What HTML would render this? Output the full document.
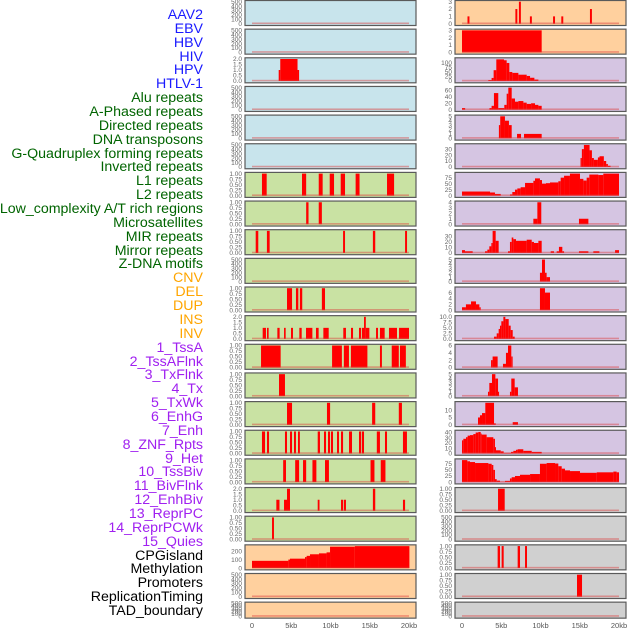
<!DOCTYPE html>
<html><head><meta charset="utf-8"><style>
html,body{margin:0;padding:0;background:#fff;width:630px;height:630px;overflow:hidden}
#labels{position:absolute;left:0;top:0;width:203px;}
.lab{position:absolute;right:0;font-family:"Liberation Sans",sans-serif;font-size:14.2px;white-space:nowrap;line-height:14px}
svg{position:absolute;left:0;top:0}
</style></head><body>
<div id="labels"></div>
<svg id="chart" width="630" height="630"></svg>
<script>
const trackNames=["AAV2","EBV","HBV","HIV","HPV","HTLV-1","Alu repeats","A-Phased repeats","Directed repeats","DNA transposons","G-Quadruplex forming repeats","Inverted repeats","L1 repeats","L2 repeats","Low_complexity A/T rich regions","Microsatellites","MIR repeats","Mirror repeats","Z-DNA motifs","CNV","DEL","DUP","INS","INV","1_TssA","2_TssAFlnk","3_TxFlnk","4_Tx","5_TxWk","6_EnhG","7_Enh","8_ZNF_Rpts","9_Het","10_TssBiv","11_BivFlnk","12_EnhBiv","13_ReprPC","14_ReprPCWk","15_Quies","CPGisland","Methylation","Promoters","ReplicationTiming","TAD_boundary"];
const labelColors=["#1a1aff","#1a1aff","#1a1aff","#1a1aff","#1a1aff","#1a1aff","#006400","#006400","#006400","#006400","#006400","#006400","#006400","#006400","#006400","#006400","#006400","#006400","#006400","#ffa500","#ffa500","#ffa500","#ffa500","#ffa500","#a020f0","#a020f0","#a020f0","#a020f0","#a020f0","#a020f0","#a020f0","#a020f0","#a020f0","#a020f0","#a020f0","#a020f0","#a020f0","#a020f0","#a020f0","#000","#000","#000","#000","#000"];
const T500=["0","100","200","300","400","500"],T1=["0.00","0.25","0.50","0.75","1.00"],T2=["0.0","0.5","1.0","1.5","2.0"];
const panelTicks=[T500,T500,T2,T500,T500,T500,T1,T1,T1,T500,T1,T2,T1,T1,T1,T1,T1,T2,T1,["0","100","200"],T500,T500,
["0","1","2","3"],["0","1","2","3"],["0","25","50","75","100"],["0","20","40","60"],["0","1","2","3","4","5"],["0","10","20","30"],["0","25","50","75"],["0","1","2","3","4"],["0","10","20","30"],["0","1","2","3","4","5"],["0","2","4","6"],["0.0","2.5","5.0","7.5","10.0"],["0","2","4","6"],["0","1","2","3","4","5"],["0","5","10"],["0","10","20","30","40"],["0","25","50","75"],T1,T500,T1,T1,T500];
const panelMax=[500,500,2,500,500,500,1,1,1,500,1,2,1,1,1,1,1,2,1,265,500,500,3,3,122,69,5,37,92,4,40,5,7.5,10,6,5,15,42,90,1,500,1,1,500];
const panelSegs=[[],[],[[3.4,3.6,1],[3.6,5.8,2],[5.8,6.0,1]],[],[],[],
[[1.27,1.87,1],[6.37,6.9,1],[8.5,9.0,1],[9.9,10.45,1],[11.3,11.85,1],[13.2,13.7,1],[17.2,18.1,1]],
[[6.9,7.2,1],[8.5,8.9,1]],
[[0.47,0.8,1],[1.9,2.25,1],[11.6,11.85,1],[15.4,15.7,1],[19.5,19.75,1]],
[],
[[4.46,5.1,1],[5.6,5.9,1],[6.1,6.4,1],[8.9,9.3,1]],
[[1.36,1.78,1],[1.91,2.12,1],[3.23,3.52,1],[4.08,4.29,1],[4.97,5.22,1],[6.03,6.33,1],[6.88,7.69,1],[8.15,8.49,1],[9.09,9.77,1],[11.63,11.97,1],[12.61,12.87,1],[13.63,13.89,1],[14.0,14.27,1],[14.27,14.5,2],[14.5,14.95,1],[15.8,16.05,1],[16.3,16.9,1],[17.45,18.47,1],[18.73,20.0,1]],
[[1.15,3.65,1],[10.2,11.45,1],[11.7,12.35,1],[12.6,14.7,1],[16.3,16.55,1],[17.8,18.7,1],[18.85,19.6,1]],
[[3.44,4.2,1]],
[[4.46,5.1,1],[9.55,9.95,1],[15.3,15.7,1],[18.7,19.1,1]],
[[1.27,1.66,1],[1.91,2.17,1],[4.2,4.46,1],[4.84,5.1,1],[5.35,5.6,1],[5.86,6.1,1],[8.37,8.66,1],[9.17,9.43,1],[9.68,9.94,1],[10.06,10.32,1],[10.83,11.08,1],[11.34,11.6,1],[12.36,12.74,1],[13.63,13.9,1],[14.0,14.27,1],[15.9,16.3,1],[16.94,17.2,1],[19.23,19.74,1]],
[[3.97,4.33,1],[5.5,6.0,1],[6.5,6.9,1],[7.7,8.2,1],[9.3,9.8,1],[15.1,15.6,1],[16.4,17.0,1]],
[[3.1,3.5,1],[4.08,4.46,1],[4.46,4.84,2],[8.37,8.6,1],[11.34,11.6,1],[11.7,11.97,1],[15.4,15.7,2],[19.23,19.5,1]],
[[2.55,2.8,1]],
[[0,4.63,87],[4.63,4.84,102],[4.84,6.75,113],[6.75,6.96,132],[6.96,7.39,147],[7.39,8.53,166],[8.53,9.5,177],[9.5,9.94,189],[9.94,13.1,257],[13.1,20.05,264]],
[],[],
[[0.7,0.95,1],[6.8,7.05,2],[7.25,7.5,3],[8.65,8.9,1],[11.6,11.85,1],[12.65,12.9,1],[16.3,16.55,2]],
[[0,10.15,3]],
[[3.35,3.77,5],[3.77,4.03,17],[4.03,4.37,60],[4.37,5.35,120],[5.35,5.69,115],[5.69,6.03,100],[6.03,6.41,50],[6.41,7.18,45],[7.18,8.24,35],[8.24,8.67,28],[8.67,9.22,18],[9.22,9.73,8]],
[[0,0.4,5],[3.5,3.77,5],[3.77,4.07,12],[4.07,4.62,52],[4.62,5.39,5],[5.39,5.69,15],[5.69,5.9,50],[5.9,6.33,69],[6.33,6.75,35],[6.75,7.18,25],[7.18,7.82,27],[7.82,8.24,22],[8.24,8.8,18],[8.8,9.3,20],[9.3,9.73,15],[9.73,10.15,12]],
[[4.7,4.87,3],[4.87,5.47,5],[5.47,5.98,4],[5.98,6.33,3],[7.01,7.52,1],[7.9,10.15,1]],
[[15.1,15.27,15],[15.27,15.53,30],[15.53,16.25,37],[16.25,16.55,28],[16.55,16.8,15],[16.8,17.31,12],[17.31,17.52,16],[17.52,18.07,18],[18.07,18.37,10],[18.37,18.58,5],[18.58,18.92,2]],
[[0,3.57,17],[3.57,4.2,13],[4.2,4.93,7],[6.11,6.41,5],[6.41,6.75,15],[6.75,7.05,25],[7.05,7.47,30],[7.47,8.03,35],[8.03,9.09,53],[9.09,9.3,62],[9.3,9.93,72],[9.93,10.19,65],[10.19,10.7,50],[10.7,11.21,52],[11.21,12.27,55],[12.27,12.57,60],[12.57,13.0,75],[13.0,13.75,83],[13.75,15.03,92],[15.03,15.46,70],[15.46,15.88,63],[15.88,16.22,75],[16.22,17.37,88],[17.37,18.0,86],[18.0,20.0,92]],
[[9.09,9.6,1],[9.6,10.1,4],[14.9,16.1,1]],
[[0,0.38,5],[0.38,1.36,3],[2.93,3.23,3],[3.23,3.48,6],[3.48,3.74,12],[3.74,3.9,18],[3.9,4.29,40],[4.29,4.67,22],[5.86,6.11,3],[6.11,6.33,20],[6.33,6.54,28],[6.54,6.88,25],[6.88,8.24,22],[8.24,8.88,24],[8.88,9.17,20],[9.17,9.73,18],[9.73,10.15,22],[11.3,11.72,3],[12.06,12.35,3],[12.35,12.78,11],[12.78,13.0,3],[14.9,16.1,3],[16.73,17.5,3],[19.5,20.0,5]],
[[9.93,10.19,2],[10.19,10.57,5],[10.57,10.78,2],[10.78,11.21,1]],
[[0,0.5,1],[0.5,1.15,2],[1.15,1.78,3],[1.78,2.21,2],[2.21,2.38,1],[9.93,10.57,7.5],[10.57,11.21,6]],
[[4.08,4.42,1],[4.42,4.67,2.5],[4.67,4.84,4.5],[4.84,5.01,6],[5.01,5.27,8],[5.27,5.52,10],[5.52,5.95,9],[5.95,6.2,6],[6.2,6.46,4],[6.46,6.71,1]],
[[3.7,3.9,2],[3.9,4.54,3],[5.22,5.6,1],[5.6,5.86,4],[5.86,6.28,6],[6.28,6.45,3]],
[[3.31,3.48,1],[3.48,3.82,3],[3.82,4.25,5],[4.25,4.59,4],[4.59,4.72,1],[6.11,6.28,1],[6.28,6.71,4],[6.71,7.13,2]],
[[2.04,2.29,5],[2.29,2.55,6.5],[2.55,2.97,8],[2.97,4.08,15],[4.08,4.3,1],[6.46,7.13,1.8]],
[[0,0.17,25],[0.17,0.51,28],[0.51,0.72,31],[0.72,1.02,34],[1.02,1.44,35],[1.44,1.74,37],[1.74,2.08,40],[2.08,2.38,41],[2.38,2.5,38],[2.5,3.14,36],[3.14,3.99,31],[3.99,4.2,28],[4.2,4.33,12],[4.33,4.93,6],[4.93,5.31,4],[5.31,6.24,1],[6.24,6.54,3],[6.54,6.88,5],[6.88,7.09,7],[7.09,7.81,8],[7.81,8.88,5],[8.88,10.15,3]],
[[0,0.68,90],[0.68,1.02,85],[1.02,1.66,82],[1.66,3.36,78],[3.36,3.78,75],[3.78,3.99,70],[3.99,4.2,50],[4.2,4.42,12],[4.42,4.84,6],[4.84,5.48,1],[5.48,6.11,5],[6.11,6.33,15],[6.33,6.75,20],[6.75,7.39,25],[7.39,8.67,30],[8.67,9.93,33],[9.93,10.78,75],[10.78,11.85,78],[11.85,12.27,76],[12.27,12.7,65],[12.7,13.12,55],[13.12,13.76,48],[13.76,15.03,45],[15.03,17.16,38],[17.16,19.28,40],[19.28,19.7,43],[19.7,20.0,40]],
[[4.59,5.44,1]],
[],
[[4.54,4.84,1],[5.05,5.31,1],[7.09,7.39,1],[8.03,8.28,1]],
[[14.65,15.29,1]],
[]];
const xTickKb=[0,5,10,15,20];
const xTickLabels=["0","5kb","10kb","15kb","20kb"];

const leftBg=["#c8e4ec","#c8e4ec","#c8e4ec","#c8e4ec","#c8e4ec","#c8e4ec","#c9e2a3","#c9e2a3","#c9e2a3","#c9e2a3","#c9e2a3","#c9e2a3","#c9e2a3","#c9e2a3","#c9e2a3","#c9e2a3","#c9e2a3","#c9e2a3","#c9e2a3","#ffd09e","#ffd09e","#ffd09e"];
const NS="http://www.w3.org/2000/svg";
const svg=document.getElementById('chart');
function mk(tag,attrs){const e=document.createElementNS(NS,tag);for(const k in attrs)e.setAttribute(k,attrs[k]);return e;}
const labDiv=document.getElementById('labels');
trackNames.forEach((n,i)=>{
  const d=document.createElement('div');
  d.className='lab';d.textContent=n;d.style.color=labelColors[i];
  d.style.top=(15+i*13.86-7)+'px';
  
  
  labDiv.appendChild(d);
});
function rowTop(r){return 0.5+r*28.65;}
function rowH(r){return r===21?16:25;}
for(let p=0;p<44;p++){
  const col=p<22?0:1, r=p%22;
  const px0=col?455:245, px1=col?626:416, x0=col?462:252;
  const top=rowTop(r), h=rowH(r);
  const bg=col?(r<2?"#ffd09e":(r<17?"#d5c5e2":"#d0d0d0")):leftBg[r];
  const g=mk('g',{});
  
  
  svg.appendChild(g);
  const rect=mk('rect',{x:px0,y:top,width:px1-px0,height:h,fill:bg,stroke:'#5a5a5a','stroke-width':1.2});
  
  
  g.appendChild(rect);
  const yb=top+h-1.8, yt=top+1.2, mx=panelMax[p];
  const ys=v=>yb-(v/mx)*(yb-yt);
  const xs=kb=>x0+kb*7.85;
  panelSegs[p].forEach(s=>{
    const b=mk('rect',{x:xs(s[0]),y:ys(s[2]),width:Math.max(0.8,xs(s[1])-xs(s[0])),height:yb-ys(s[2]),fill:'#ff0000'});
    
    
    g.appendChild(b);
  });
  const bl=mk('rect',{x:xs(0),y:yb-1.2,width:xs(20)-xs(0),height:1.6,fill:'rgba(220,60,60,0.45)'});
  
  
  g.appendChild(bl);
  panelTicks[p].forEach(t=>{
    const tx=mk('text',{x:px0-3,y:ys(parseFloat(t))+2.2,'text-anchor':'end','font-size':6.5,fill:'#666','font-family':'Liberation Sans, sans-serif'});
    tx.textContent=t;
    
    
    g.appendChild(tx);
  });
}
[252,462].forEach(x0=>{
  xTickKb.forEach((kb,i)=>{
    const tx=mk('text',{x:x0+kb*7.85,y:628,'text-anchor':'middle','font-size':7.5,fill:'#555','font-family':'Liberation Sans, sans-serif'});
    tx.textContent=xTickLabels[i];
    
    
    svg.appendChild(tx);
  });
});
</script>
</body></html>
